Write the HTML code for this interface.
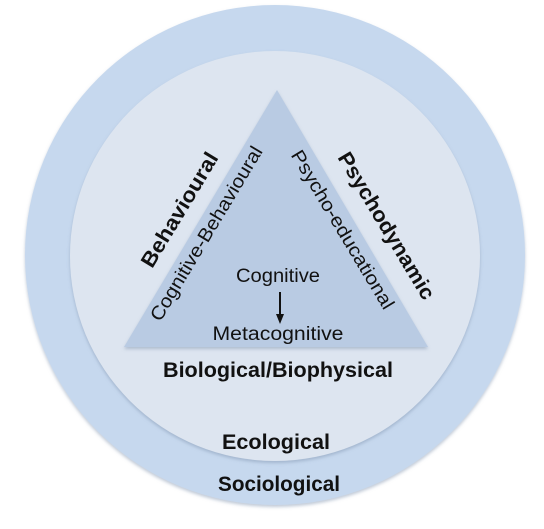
<!DOCTYPE html>
<html><head><meta charset="utf-8"><style>
html,body{margin:0;padding:0;background:#fff;}
svg{display:block;}
text{font-family:"Liberation Sans",sans-serif;fill:#111;}
</style></head><body>
<svg width="544" height="529" viewBox="0 0 544 529" xmlns="http://www.w3.org/2000/svg">
<defs>
<filter id="sh" x="-10%" y="-10%" width="120%" height="120%"><feDropShadow dx="0" dy="2" stdDeviation="1.5" flood-color="#7f93ad" flood-opacity="0.5"/></filter>
</defs>
<circle cx="275" cy="255" r="250" fill="#c6d8ee" filter="url(#sh)"/>
<circle cx="275" cy="256" r="205" fill="#dde5f0" filter="url(#sh)"/>
<polygon points="277,90 124,347 428,347" fill="#b9cbe3" filter="url(#sh)"/>
<g font-size="19">
<text x="278" y="282" text-anchor="middle" textLength="84" lengthAdjust="spacingAndGlyphs">Cognitive</text>
<text x="278" y="340" text-anchor="middle" textLength="131" lengthAdjust="spacingAndGlyphs">Metacognitive</text>
</g>
<line x1="280" y1="292" x2="280" y2="316" stroke="#111" stroke-width="2"/>
<polygon points="276,314 284,314 280,324" fill="#111"/>
<g font-weight="bold" font-size="21">
<text x="278" y="377" text-anchor="middle" textLength="230" lengthAdjust="spacingAndGlyphs">Biological/Biophysical</text>
<text x="276" y="449" text-anchor="middle" textLength="108" lengthAdjust="spacingAndGlyphs">Ecological</text>
<text x="279" y="491" text-anchor="middle" textLength="122" lengthAdjust="spacingAndGlyphs">Sociological</text>
</g>
<text transform="translate(180,210) rotate(-59)" font-weight="bold" font-size="21" text-anchor="middle" dominant-baseline="central" textLength="130" lengthAdjust="spacingAndGlyphs">Behavioural</text>
<text transform="translate(207,234) rotate(-59)" font-size="19" text-anchor="middle" dominant-baseline="central" textLength="200" lengthAdjust="spacingAndGlyphs">Cognitive-Behavioural</text>
<text transform="translate(342,230) rotate(59)" font-size="19" text-anchor="middle" dominant-baseline="central" textLength="182" lengthAdjust="spacingAndGlyphs">Psycho-educational</text>
<text transform="translate(386,226) rotate(59)" font-weight="bold" font-size="21" text-anchor="middle" dominant-baseline="central" textLength="168" lengthAdjust="spacingAndGlyphs">Psychodynamic</text>
</svg>
</body></html>
